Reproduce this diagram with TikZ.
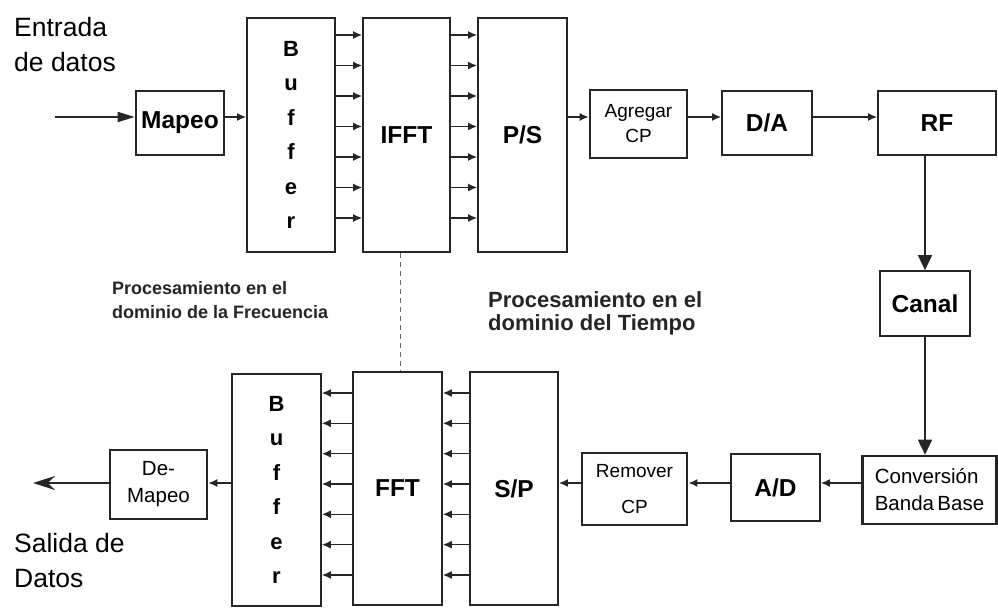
\documentclass[tikz,border=0pt]{standalone}
\usepackage{fontspec}
\setmainfont{Liberation Sans}
\usetikzlibrary{arrows.meta,calc}
\begin{document}
\begin{tikzpicture}[x=1pt,y=-1pt,
  box/.style={draw=black!85, line width=1.7pt, inner sep=0pt, align=center, fill=white},
  heavybox/.style={box, line width=2.6pt},
  lbl/.style={font=\fontsize{24.5}{28}\selectfont\bfseries},
  sm/.style={font=\fontsize{19}{25}\selectfont},
  md/.style={font=\fontsize{20.5}{27}\selectfont},
  bufftxt/.style={font=\fontsize{22}{34.5}\selectfont\bfseries},
  big/.style={font=\fontsize{26.5}{35}\selectfont, align=left, inner sep=0pt, anchor=west},
  arr/.style={line width=1.5pt, draw=black!85, -{Latex[length=9pt,width=8pt]}},
  varr/.style={line width=1.7pt, draw=black!85, -{Triangle[length=15pt,width=14pt]}},
  inarr/.style={line width=1.7pt, draw=black!85, -{Triangle[length=17pt,width=10pt]}},
  outarr/.style={line width=1.8pt, draw=black!85, -{Stealth[length=22pt,width=14pt]}},
]
\useasboundingbox[fill=white] (0,0) rectangle (998,609);

% texts
\node[big] (entrada) at (14,45) {Entrada\\de datos};
\node[big] (salida) at (14,561) {Salida de\\Datos};
\node[font=\fontsize{18}{24}\selectfont\bfseries, align=left, inner sep=0pt, anchor=north west, text=black!85] (freq) at (112,281) {Procesamiento en el\\dominio de la Frecuencia};
\node[font=\fontsize{22}{23}\selectfont\bfseries, align=left, inner sep=0pt, anchor=north west, text=black!85] (tiempo) at (488,291) {Procesamiento en el\\dominio del Tiempo};

% top row
\node[heavybox, minimum width=88pt, minimum height=64pt, lbl] (mapeo) at (180,123) {Mapeo};
\node[box, minimum width=88pt, minimum height=234pt, bufftxt] (buf) at (291,135) {B\\u\\f\\f\\e\\r};
\node[box, minimum width=87pt, minimum height=234pt, lbl] (ifft) at (406.5,135) {IFFT};
\node[box, minimum width=89pt, minimum height=234pt, lbl] (ps) at (522.5,135) {P/S};
\node[heavybox, minimum width=97pt, minimum height=68pt, sm] (agr) at (638.5,124) {Agregar\\CP};
\node[box, minimum width=90pt, minimum height=64pt, lbl] (da) at (767,123) {D/A};
\node[box, minimum width=118pt, minimum height=64pt, lbl] (rf) at (937,123) {RF};
\node[box, minimum width=90pt, minimum height=65pt, lbl] (canal) at (925,303.5) {Canal};

% bottom row
\node[heavybox, minimum width=134pt, minimum height=68pt, md, align=left] (conv) at (929.5,490) {Conversión\\Banda\,Base};
\node[box, minimum width=89pt, minimum height=67pt, lbl] (ad) at (775.5,487.5) {A/D};
\node[heavybox, minimum width=105pt, minimum height=72pt, font=\fontsize{19}{36}\selectfont] (rem) at (634.5,489) {Remover\\CP};
\node[box, minimum width=88pt, minimum height=233pt, lbl] (sp) at (514,488.5) {S/P};
\node[box, minimum width=89pt, minimum height=233pt, lbl] (fft) at (397.5,488.5) {FFT};
\node[box, minimum width=89pt, minimum height=232pt, bufftxt] (buf2) at (276.5,490) {B\\u\\f\\f\\e\\r};
\node[heavybox, minimum width=97pt, minimum height=69pt, md] (demap) at (158.5,484.5) {De-\\Mapeo};

\coordinate (in) at (55,117);
\coordinate (out) at (33,483);

% top connectors
\draw[inarr] (in) -- (mapeo.west |- in);
\draw[arr] (mapeo.east |- in) -- (buf.west |- in);
\foreach \yy in {35,65.5,96,126.5,157,187.5,218} {
  \draw[arr] (buf.east |- 0,\yy) -- (ifft.west |- 0,\yy);
  \draw[arr] (ifft.east |- 0,\yy) -- (ps.west |- 0,\yy);
}
\draw[arr] (ps.east |- in) -- (agr.west |- in);
\draw[arr] (agr.east |- in) -- (da.west |- in);
\draw[arr] (da.east |- in) -- (rf.west |- in);
\draw[varr] (canal.north |- rf.south) -- (canal.north);
\draw[varr] (canal.south) -- (canal.south |- conv.north);

% bottom connectors
\draw[arr] (conv.west |- out) -- (ad.east |- out);
\draw[arr, line width=2.2pt] (ad.west |- out) -- (rem.east |- out);
\draw[arr] (rem.west |- out) -- (sp.east |- out);
\foreach \yy in {393,423.3,453.7,484,514.3,544.7,575} {
  \draw[arr] (sp.west |- 0,\yy) -- (fft.east |- 0,\yy);
  \draw[arr] (fft.west |- 0,\yy) -- (buf2.east |- 0,\yy);
}
\draw[arr] (buf2.west |- out) -- (demap.east |- out);
\draw[outarr] (demap.west |- out) -- (out);

% dashed divider
\draw[black!60, line width=0.7pt, dash pattern=on 5pt off 4pt] (ifft.south -| fft.north) ++(2.5,0) -- ($(fft.north)+(2.5,0)$);
\end{tikzpicture}
\end{document}
